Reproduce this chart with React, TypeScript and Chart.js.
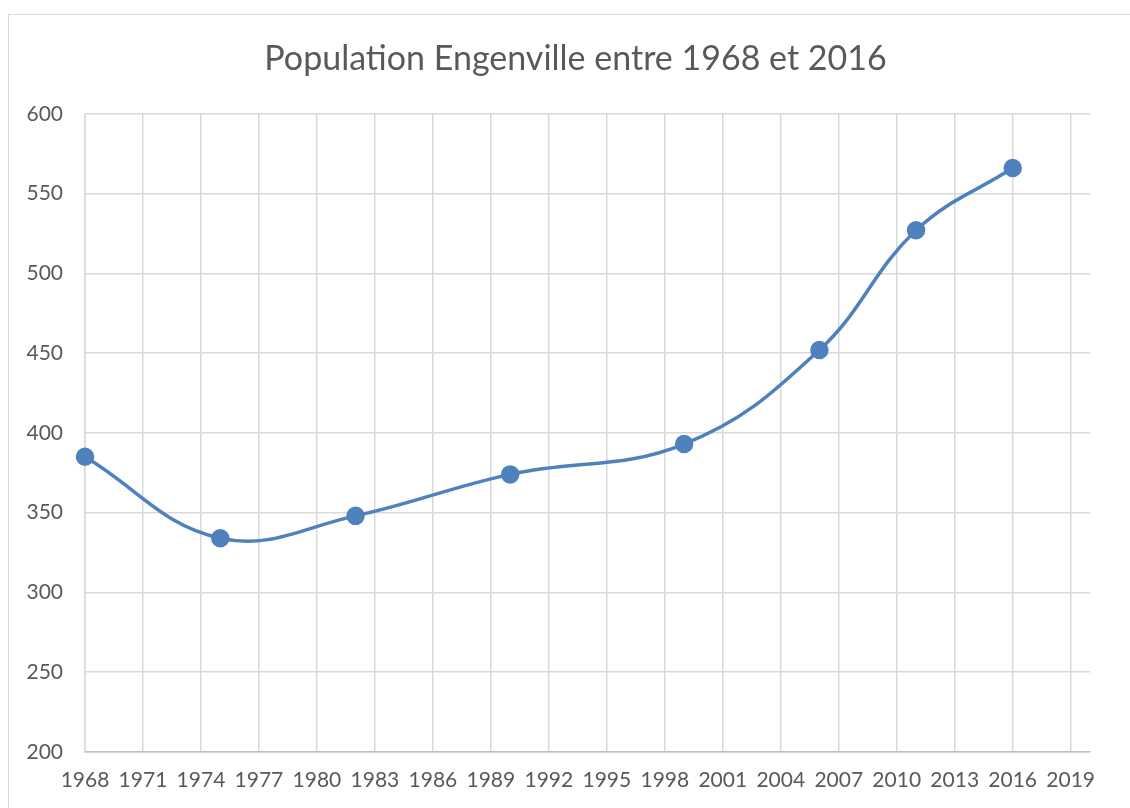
import React, { useEffect, useRef } from "react";
import { Chart, registerables } from "chart.js";

Chart.register(...registerables);

const years = [1968, 1975, 1982, 1990, 1999, 2006, 2011, 2016];
const population = [385, 334, 348, 374, 393, 452, 527, 566];
const xTickYears = [1968, 1971, 1974, 1977, 1980, 1983, 1986, 1989, 1992, 1995, 1998, 2001, 2004, 2007, 2010, 2013, 2016, 2019];
const yTicks = [200, 250, 300, 350, 400, 450, 500, 550, 600];
const chartTitle = "Population Engenville entre 1968 et 2016";

const FONT = "Lato, 'Open Sans', sans-serif";
const TEXT = "#595959";

const framePlugin = {
  id: "frame",
  afterLayout(chart: any) {
    const t = chart.titleBlock;
    if (t) {
      t.left = 61;
      t.right = 1090;
      t.width = t.right - t.left;
    }
  },
  beforeDraw(chart: any) {
    const ctx = chart.ctx;
    ctx.save();
    ctx.fillStyle = "#ffffff";
    ctx.fillRect(0, 0, chart.width, chart.height);
    ctx.strokeStyle = "#d9d9d9";
    ctx.lineWidth = 1;
    ctx.strokeRect(8.5, 14.5, chart.width + 10, chart.height + 10);
    ctx.restore();
  },
};

export default function App() {
  const ref = useRef<HTMLCanvasElement | null>(null);
  useEffect(() => {
    if (!ref.current) return;
    const chart = new Chart(ref.current, {
      type: "line",
      data: {
        datasets: [
          {
            label: "Population",
            data: years.map((y, i) => ({ x: y, y: population[i] })),
            borderColor: "#4f81bd",
            backgroundColor: "#4f81bd",
            borderWidth: 3.5,
            pointRadius: 7.5,
            pointHoverRadius: 7.5,
            pointBackgroundColor: "#4f81bd",
            pointBorderColor: "#4f81bd",
            tension: 0.4,
            clip: false,
          },
        ],
      },
      options: {
        responsive: false,
        animation: false,
        layout: { padding: { left: 8, top: 14, right: 40, bottom: 0 } },
        plugins: {
          legend: { display: false },
          tooltip: { enabled: false },
          title: {
            display: true,
            text: chartTitle,
            color: TEXT,
            font: { family: FONT, size: 34, weight: "normal" },
            padding: { top: 25, bottom: 34 },
          },
        },
        scales: {
          x: {
            type: "linear",
            min: 1968,
            max: 2020,
            afterBuildTicks: (scale: any) => {
              scale.ticks = xTickYears.map((v) => ({ value: v }));
            },
            afterFit: (scale: any) => {
              scale.height = 56;
            },
            ticks: {
              color: TEXT,
              font: { family: FONT, size: 21 },
              padding: 16,
              autoSkip: false,
              maxRotation: 0,
              callback: (v: any) => String(v),
            },
            grid: { color: "#d9d9d9", lineWidth: 1.5, drawTicks: false },
            border: { color: "#bfbfbf", width: 1.5 },
          },
          y: {
            type: "linear",
            min: 200,
            max: 600,
            afterBuildTicks: (scale: any) => {
              scale.ticks = yTicks.map((v) => ({ value: v }));
            },
            afterFit: (scale: any) => {
              scale.width = 77;
            },
            ticks: {
              color: TEXT,
              font: { family: FONT, size: 21 },
              padding: 22,
              callback: (v: any) => String(v),
            },
            grid: { color: "#d9d9d9", lineWidth: 1.5, drawTicks: false },
            border: { color: "#d9d9d9", width: 1.5 },
          },
        },
      },
      plugins: [framePlugin],
    });
    return () => chart.destroy();
  }, []);

  return (
    <div style={{ position: "absolute", left: 0, top: 0, width: 1130, height: 808 }}>
      <canvas ref={ref} width={1130} height={808} style={{ display: "block" }} />
    </div>
  );
}
